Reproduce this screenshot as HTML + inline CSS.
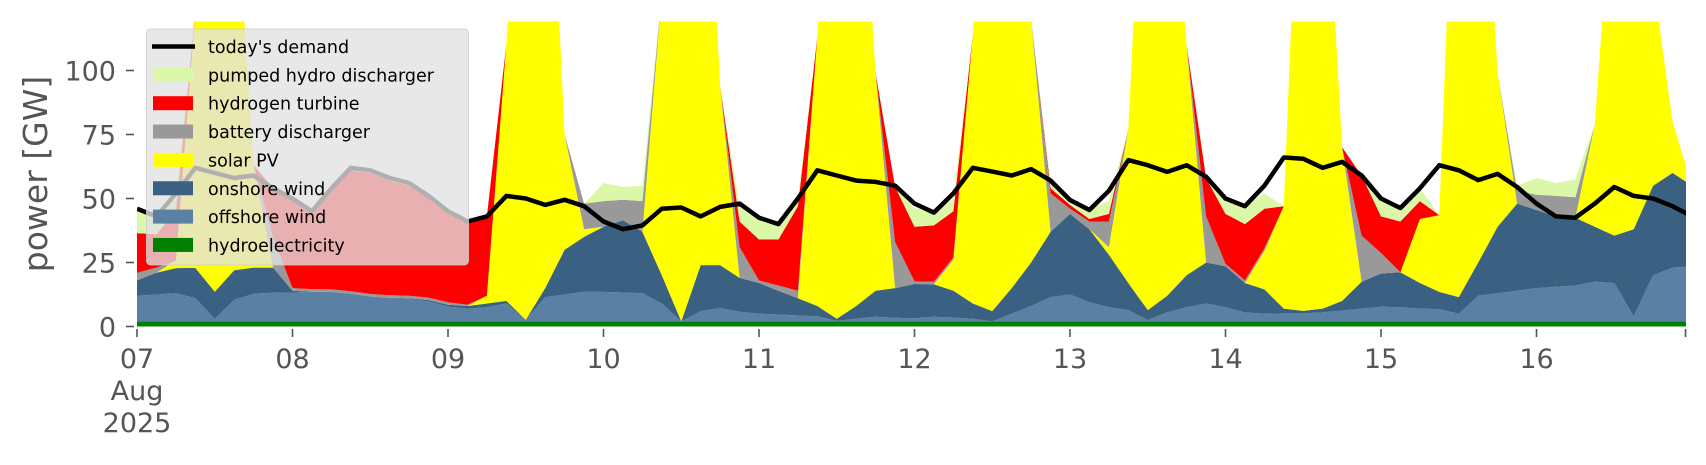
<!DOCTYPE html>
<html>
<head>
<meta charset="utf-8">
<style>
  html, body { margin: 0; padding: 0; background: #ffffff; }
  body { width: 1706px; height: 460px; overflow: hidden; }
  svg text { font-family: "DejaVu Sans", "Liberation Sans", sans-serif; }
</style>
</head>
<body>
<svg id="chart" width="1706" height="460" viewBox="0 0 1706 460" xmlns="http://www.w3.org/2000/svg">
  <defs>
    <clipPath id="plot-clip"><rect x="137" y="21.5" width="1549" height="305"/></clipPath>
  </defs>
  <g id="areas" clip-path="url(#plot-clip)"></g>
  <g id="demand" clip-path="url(#plot-clip)"></g>
  <g id="yaxis"></g>
  <g id="xaxis"></g>
  <text x="0" y="0" transform="translate(47,174) rotate(-90)" text-anchor="middle" font-size="33" fill="#555555">power [GW]</text>
  <g id="legend"></g>
</svg>
<script>
// Time step between samples (hours) – each array index i corresponds to hour 3*i from 07 Aug 00:00
const stepHours = 3;
const dayLabels = ['07','08','09','10','11','12','13','14','15','16'];
const yTicks = [0, 25, 50, 75, 100];

const hydro = [2,2,2,2.1,2,2,2,2,2,2,2,2,2,2,2,2,2,2,2,2,2,2,2,2,2,2,2,2,2,2,2,2,2,2,2,2,2,2,2,2,2,2,2,2,2,2,2,2,2,2,2,2,2,2,2,2,2,2,2,2,2,2,2,2,2,2,2,2,2,2,2,2,2,2,2,2,2,2,2,2,2];
const offshore = [10,10.5,11,9,1,8.4,10.8,11.2,11.3,11.6,11.5,10.8,9.7,9.2,8.8,7.8,5.8,5,5.5,7,0.6,9.5,10.5,11.5,11.5,11.3,11,7,0,4,5.2,3.8,3,2.7,2.3,2,0.2,1,1.8,1.4,1.2,1.8,1.5,1,0,3,6,9.5,10.5,7.5,5.5,4.4,0.5,3.5,5.5,7,5.5,3.5,3,3.1,3.1,3.5,4.2,5,5.7,5.5,5,4.8,3,10,11,12,13,13.5,14,15.5,15,2,18,21,21.4];
const onshore = [6,8.5,9.8,11.8,10.6,11.6,10.2,9.8,0.7,0,0,0,0,0,0.2,0.5,0.7,1,1.5,1,0,3.5,17.5,21.5,25.5,28.2,24,11,0,18,16.8,13.2,12,9.3,6.7,4,0.8,5,10.2,11.6,13.4,12.7,10.5,6,4,10,17,25.5,31.5,28.5,20.5,10.6,3.9,6.5,12.5,16,16,11.5,9.5,1.9,1,1.5,3.8,10.5,13,13.7,10,6.7,6.5,13,26,34,30.5,27.5,26.5,21.5,18.5,34,35,37,31.6];
const solar = [0,0,3,100,200,160,40,0,0,0,0,0,0,0,0,0,0,0,3,100,230,220,45,3,0,0,0,110,240,220,70,0,0,0,0,105,230,210,85,0,0,0,12,105,230,200,95,0,0,0,3,60,230,200,90,0,0,0,15,40,230,200,60,0,0,0,25,30,230,200,60,0,0,0,0,40,150,150,80,20,0];
const battery = [3,2,0,0,0,0,0,12,1,1,1,1,1,1,1,1,1,0.5,0,0,0,0,0,10,10,8,12,0,0,0,0,12,1,2,3,0,0,0,0,18,1,1,1,0,0,0,0,15,2,3,10,0,0,0,0,18,1,1,1,0,0,0,0,18,8,0,0,0,0,0,0,5,6,8,8,0,0,0,0,0,0];
const hydrogen = [15.5,13,19.2,0,0,0,0,19,34.5,29.9,39,47.2,47.3,44.8,43,39.2,35.5,32.5,31,0,0,0,0,0,0,0,0,0,0,0,0,10,16,18,33,0,0,0,0,21.6,21.4,22,18,0,0,0,0,2,1.5,1,3,0,0,0,0,15,19.5,22,15.5,0,0,0,0,23.5,14.3,19.8,7,0,0,0,0,0,0,0,0,0,0,0,0,0,0];
const pumpedHydro = [8.5,7,7,0,0,0,0,0,0.5,0.5,0.5,1,1,1,1,0.5,0,0,0,0,0,0,0,0,7,5,6,0,0,0,0,6,8,6,3,0,0,0,0,0.4,7.3,5,5,0,0,0,0,3,2.5,4,5,0,0,0,0,0.5,5,7,6,0,0,0,0,0,7,5.3,5,0,0,0,0,2,6.5,5,7,0,0,0,0,0,0];
const demand = [46,43,52,62,60,58,59,54,50,45,54,62,61,58,56,51,45,41,43,51,50,47.5,49.5,47,41,38,39.5,46,46.5,43,46.7,48,42.5,40,50,61,59,57,56.5,55,48,44.5,52,62,60.5,59,61.5,57,49.4,45.5,53,65,63,60.4,63,58.5,50,47,55,66,65.5,62,64.3,59,50,46.3,54,63,61,57.2,59.6,54.5,48,43,42.5,48,54.5,51,50,47,43];

const seriesData = [hydro, offshore, onshore, solar, battery, hydrogen, pumpedHydro];
const seriesColors = ['#008000','#5a80a3','#3b6182','#ffff00','#999999','#ff0000','#dbf7a8'];
const seriesKeys = ['hydro','offshore-wind','onshore-wind','solar-pv','battery-discharger','hydrogen-turbine','pumped-hydro'];

const NS = 'http://www.w3.org/2000/svg';
const X0 = 137, PX_PER_HOUR = 155.5 / 24;
const Y0 = 326.5, PX_PER_GW = 2.56;
function xScale(h) { return X0 + h * PX_PER_HOUR; }
function yScale(v) { return Y0 - v * PX_PER_GW; }
function mk(tag, attrs) { const e = document.createElementNS(NS, tag); for (const k in attrs) e.setAttribute(k, attrs[k]); return e; }

// stacked areas
const areas = document.getElementById('areas');
const n = demand.length;
let base = new Array(n).fill(0);
seriesData.forEach((arr, s) => {
  const top = base.map((b, i) => b + Math.max(0, arr[i] || 0));
  let pts = [];
  for (let i = 0; i < n; i++) pts.push(xScale(i * stepHours).toFixed(1) + ',' + yScale(top[i]).toFixed(1));
  for (let i = n - 1; i >= 0; i--) pts.push(xScale(i * stepHours).toFixed(1) + ',' + yScale(base[i]).toFixed(1));
  const poly = mk('polygon', { points: pts.join(' '), fill: seriesColors[s] });
  
  
  areas.appendChild(poly);
  base = top;
});

// demand line
const dg = document.getElementById('demand');
const dpts = demand.map((v, i) => xScale(i * stepHours).toFixed(1) + ',' + yScale(v).toFixed(1)).join(' ');
const dline = mk('polyline', { points: dpts, fill: 'none', stroke: '#000000', 'stroke-width': 4.5, 'stroke-linejoin': 'round' });


dg.appendChild(dline);

// y axis
const ya = document.getElementById('yaxis');
yTicks.forEach(t => {
  const y = yScale(t);
  const tk = mk('line', { x1: 126, x2: 134, y1: y, y2: y, stroke: '#555555', 'stroke-width': 1.6 });
  
  
  ya.appendChild(tk);
  const tx = mk('text', { x: 116, y: y + 10, 'text-anchor': 'end', 'font-size': 27, fill: '#555555' });
  tx.textContent = String(t);
  
  
  ya.appendChild(tx);
});

// x axis
const xa = document.getElementById('xaxis');
dayLabels.forEach((d, k) => {
  const x = xScale(k * 24);
  const tk = mk('line', { x1: x, x2: x, y1: 329, y2: 337, stroke: '#555555', 'stroke-width': 1.6 });
  
  
  xa.appendChild(tk);
  const tx = mk('text', { x: x, y: 368, 'text-anchor': 'middle', 'font-size': 27, fill: '#555555' });
  tx.textContent = d;
  
  
  xa.appendChild(tx);
});
const endTick = mk('line', { x1: xScale(239), x2: xScale(239), y1: 329, y2: 337, stroke: '#555555', 'stroke-width': 1.6 });


xa.appendChild(endTick);
['Aug', '2025'].forEach((s, j) => {
  const tx = mk('text', { x: xScale(0), y: 400 + j * 32, 'text-anchor': 'middle', 'font-size': 27, fill: '#555555' });
  tx.textContent = s;
  
  
  xa.appendChild(tx);
});

// legend
const lg = document.getElementById('legend');
const box = mk('rect', { x: 146.5, y: 29, width: 322, height: 236, rx: 4, fill: 'rgba(226,226,226,0.78)', stroke: 'rgba(204,204,204,0.8)', 'stroke-width': 1 });


lg.appendChild(box);
const legendLabels = ["today's demand", 'pumped hydro discharger', 'hydrogen turbine', 'battery discharger', 'solar PV', 'onshore wind', 'offshore wind', 'hydroelectricity'];
const legendColors = ['#000000', '#dbf7a8', '#ff0000', '#999999', '#ffff00', '#3b6182', '#5a80a3', '#008000'];
legendLabels.forEach((lab, i) => {
  const cy = 46.5 + i * 28.35;
  let sw;
  if (i === 0) {
    sw = mk('line', { x1: 152, x2: 195, y1: cy, y2: cy, stroke: '#000000', 'stroke-width': 4.5 });
  } else {
    sw = mk('rect', { x: 153, y: cy - 7, width: 40, height: 14, fill: legendColors[i] });
  }
  
  
  lg.appendChild(sw);
  const tx = mk('text', { x: 208, y: cy + 6.5, 'font-size': 17.5, fill: '#000000' });
  tx.textContent = lab;
  
  
  lg.appendChild(tx);
});
</script>
</body>
</html>
